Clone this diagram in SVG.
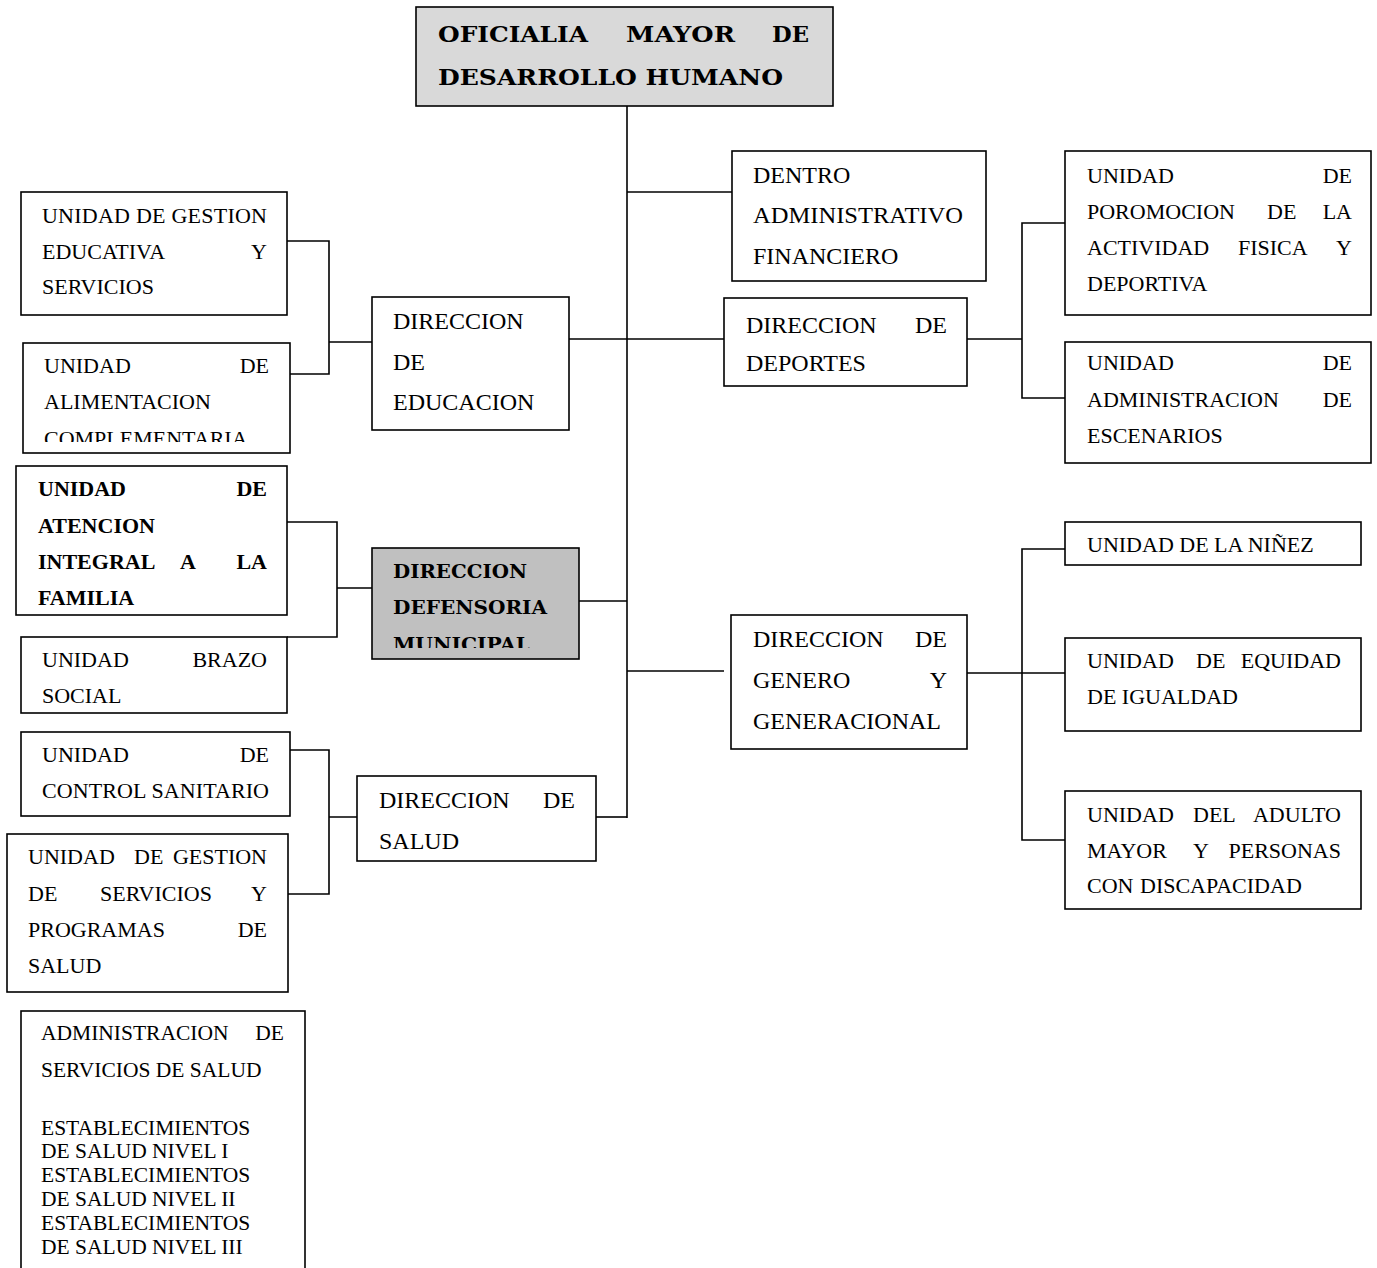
<svg xmlns="http://www.w3.org/2000/svg" width="1377" height="1268" viewBox="0 0 1377 1268">
<style>
.box{fill:#fff;stroke:#000;stroke-width:1.6}
.grey{fill:#c0c0c0}
.topf{fill:#d9d9d9}
.t{font-family:"Liberation Serif","Times New Roman",serif;font-size:22px;fill:#000}
.d{font-size:24px}
.s{font-size:21.5px}
.b{font-weight:bold}
.g{font-family:"DejaVu Serif","Liberation Serif",serif;font-weight:bold;fill:#000}
.e{text-anchor:end}
#connectors path{fill:none;stroke:#000;stroke-width:1.6}
</style>
<defs>
<clipPath id="clipAlim"><rect x="0" y="343" width="300" height="99"/></clipPath>
<clipPath id="clipDef"><rect x="372" y="548" width="207" height="100"/></clipPath>
</defs>
<rect width="1377" height="1268" fill="#fff"/>
<g id="connectors">
<path d="M627 106V818"/>
<path d="M627 192H732"/>
<path d="M569 339H724"/>
<path d="M579 601H627"/>
<path d="M627 671H724"/>
<path d="M596 817H627"/>
<path d="M287 241H329V374H290M329 342H372"/>
<path d="M287 522H337V637H287M337 588H372"/>
<path d="M290 750H329V894H288M329 817H357"/>
<path d="M967 339H1022M1065 223H1022V398H1065"/>
<path d="M967 673H1065M1065 549H1022V840H1065"/>
</g>
<g id="oficialia">
<rect class="box topf" x="416" y="7" width="417" height="99"/>
<text class="g" font-size="22.5" y="42"><tspan x="438" textLength="150" lengthAdjust="spacingAndGlyphs">OFICIALIA</tspan><tspan x="626" textLength="109" lengthAdjust="spacingAndGlyphs">MAYOR</tspan><tspan x="772" textLength="37" lengthAdjust="spacingAndGlyphs">DE</tspan></text>
<text class="g" font-size="22.5" x="438" y="85" textLength="345" lengthAdjust="spacingAndGlyphs">DESARROLLO HUMANO</text>
</g>
<g id="dentro">
<rect class="box" x="732" y="151" width="254" height="130"/>
<text class="t d" x="753" y="183">DENTRO</text>
<text class="t d" x="753" y="223" textLength="210" lengthAdjust="spacingAndGlyphs">ADMINISTRATIVO</text>
<text class="t d" x="753" y="264">FINANCIERO</text>
</g>
<g id="deportes">
<rect class="box" x="724" y="298" width="243" height="88"/>
<text class="t d" y="333"><tspan x="746">DIRECCION</tspan><tspan class="e" x="947">DE</tspan></text>
<text class="t d" x="746" y="371">DEPORTES</text>
</g>
<g id="u-promocion">
<rect class="box" x="1065" y="151" width="306" height="164"/>
<text class="t" y="183"><tspan x="1087">UNIDAD</tspan><tspan class="e" x="1352">DE</tspan></text>
<text class="t" y="219"><tspan x="1087">POROMOCION</tspan><tspan x="1267">DE</tspan><tspan class="e" x="1352">LA</tspan></text>
<text class="t" y="255"><tspan x="1087">ACTIVIDAD</tspan><tspan x="1238">FISICA</tspan><tspan class="e" x="1352">Y</tspan></text>
<text class="t" x="1087" y="291">DEPORTIVA</text>
</g>
<g id="u-escenarios">
<rect class="box" x="1065" y="342" width="306" height="121"/>
<text class="t" y="370"><tspan x="1087">UNIDAD</tspan><tspan class="e" x="1352">DE</tspan></text>
<text class="t" y="407"><tspan x="1087">ADMINISTRACION</tspan><tspan class="e" x="1352">DE</tspan></text>
<text class="t" x="1087" y="443">ESCENARIOS</text>
</g>
<g id="u-gestion-educativa">
<rect class="box" x="21" y="192" width="266" height="123"/>
<text class="t" x="42" y="223" textLength="225" lengthAdjust="spacing">UNIDAD DE GESTION</text>
<text class="t" y="259"><tspan x="42">EDUCATIVA</tspan><tspan class="e" x="267">Y</tspan></text>
<text class="t" x="42" y="294">SERVICIOS</text>
</g>
<g id="u-alimentacion">
<rect class="box" x="23" y="343" width="267" height="110"/>
<text class="t" y="373"><tspan x="44">UNIDAD</tspan><tspan class="e" x="269">DE</tspan></text>
<text class="t" x="44" y="409">ALIMENTACION</text>
<text class="t" x="44" y="446" clip-path="url(#clipAlim)">COMPLEMENTARIA</text>
</g>
<g id="educacion">
<rect class="box" x="372" y="297" width="197" height="133"/>
<text class="t d" x="393" y="329">DIRECCION</text>
<text class="t d" x="393" y="370">DE</text>
<text class="t d" x="393" y="410">EDUCACION</text>
</g>
<g id="u-familia">
<rect class="box" x="16" y="466" width="271" height="149"/>
<text class="t b" y="496"><tspan x="38">UNIDAD</tspan><tspan class="e" x="267">DE</tspan></text>
<text class="t b" x="38" y="533">ATENCION</text>
<text class="t b" y="569"><tspan x="38">INTEGRAL</tspan><tspan x="180">A</tspan><tspan class="e" x="267">LA</tspan></text>
<text class="t b" x="38" y="605">FAMILIA</text>
</g>
<g id="u-brazo">
<rect class="box" x="21" y="637" width="266" height="76"/>
<text class="t" y="667"><tspan x="42">UNIDAD</tspan><tspan class="e" x="267">BRAZO</tspan></text>
<text class="t" x="42" y="703">SOCIAL</text>
</g>
<g id="defensoria">
<rect class="box grey" x="372" y="548" width="207" height="111"/>
<text class="g" font-size="18" x="393" y="578" textLength="134" lengthAdjust="spacingAndGlyphs">DIRECCION</text>
<text class="g" font-size="18" x="393" y="614" textLength="154" lengthAdjust="spacingAndGlyphs">DEFENSORIA</text>
<text class="g" font-size="18" x="393" y="651" textLength="137" lengthAdjust="spacingAndGlyphs" clip-path="url(#clipDef)">MUNICIPAL</text>
</g>
<g id="u-control">
<rect class="box" x="21" y="732" width="269" height="84"/>
<text class="t" y="762"><tspan x="42">UNIDAD</tspan><tspan class="e" x="269">DE</tspan></text>
<text class="t" x="42" y="798" textLength="227" lengthAdjust="spacing">CONTROL SANITARIO</text>
</g>
<g id="u-gestion-salud">
<rect class="box" x="7" y="834" width="281" height="158"/>
<text class="t" y="864"><tspan x="28">UNIDAD</tspan><tspan x="134">DE</tspan><tspan class="e" x="267">GESTION</tspan></text>
<text class="t" y="901"><tspan x="28">DE</tspan><tspan x="100">SERVICIOS</tspan><tspan class="e" x="267">Y</tspan></text>
<text class="t" y="937"><tspan x="28">PROGRAMAS</tspan><tspan class="e" x="267">DE</tspan></text>
<text class="t" x="28" y="973">SALUD</text>
</g>
<g id="salud">
<rect class="box" x="357" y="776" width="239" height="85"/>
<text class="t d" y="808"><tspan x="379">DIRECCION</tspan><tspan class="e" x="575">DE</tspan></text>
<text class="t d" x="379" y="849">SALUD</text>
</g>
<g id="admin-salud">
<rect class="box" x="21" y="1011" width="284" height="280"/>
<text class="t s" y="1040"><tspan x="41">ADMINISTRACION</tspan><tspan class="e" x="284">DE</tspan></text>
<text class="t s" x="41" y="1077">SERVICIOS DE SALUD</text>
<text class="t s" x="41" y="1135">ESTABLECIMIENTOS</text>
<text class="t s" x="41" y="1158">DE SALUD NIVEL I</text>
<text class="t s" x="41" y="1182">ESTABLECIMIENTOS</text>
<text class="t s" x="41" y="1206">DE SALUD NIVEL II</text>
<text class="t s" x="41" y="1230">ESTABLECIMIENTOS</text>
<text class="t s" x="41" y="1254">DE SALUD NIVEL III</text>
</g>
<g id="genero">
<rect class="box" x="731" y="615" width="236" height="134"/>
<text class="t d" y="647"><tspan x="753">DIRECCION</tspan><tspan class="e" x="947">DE</tspan></text>
<text class="t d" y="688"><tspan x="753">GENERO</tspan><tspan class="e" x="947">Y</tspan></text>
<text class="t d" x="753" y="729">GENERACIONAL</text>
</g>
<g id="u-ninez">
<rect class="box" x="1065" y="522" width="296" height="43"/>
<text class="t" x="1087" y="552">UNIDAD DE LA NIÑEZ</text>
</g>
<g id="u-equidad">
<rect class="box" x="1065" y="638" width="296" height="93"/>
<text class="t" y="668"><tspan x="1087">UNIDAD</tspan><tspan x="1196">DE</tspan><tspan class="e" x="1341">EQUIDAD</tspan></text>
<text class="t" x="1087" y="704">DE IGUALDAD</text>
</g>
<g id="u-adulto">
<rect class="box" x="1065" y="791" width="296" height="118"/>
<text class="t" y="822"><tspan x="1087">UNIDAD</tspan><tspan x="1193">DEL</tspan><tspan class="e" x="1341">ADULTO</tspan></text>
<text class="t" y="858"><tspan x="1087">MAYOR</tspan><tspan x="1193">Y</tspan><tspan class="e" x="1341">PERSONAS</tspan></text>
<text class="t" y="893"><tspan x="1087">CON</tspan><tspan x="1140">DISCAPACIDAD</tspan></text>
</g>
</svg>
